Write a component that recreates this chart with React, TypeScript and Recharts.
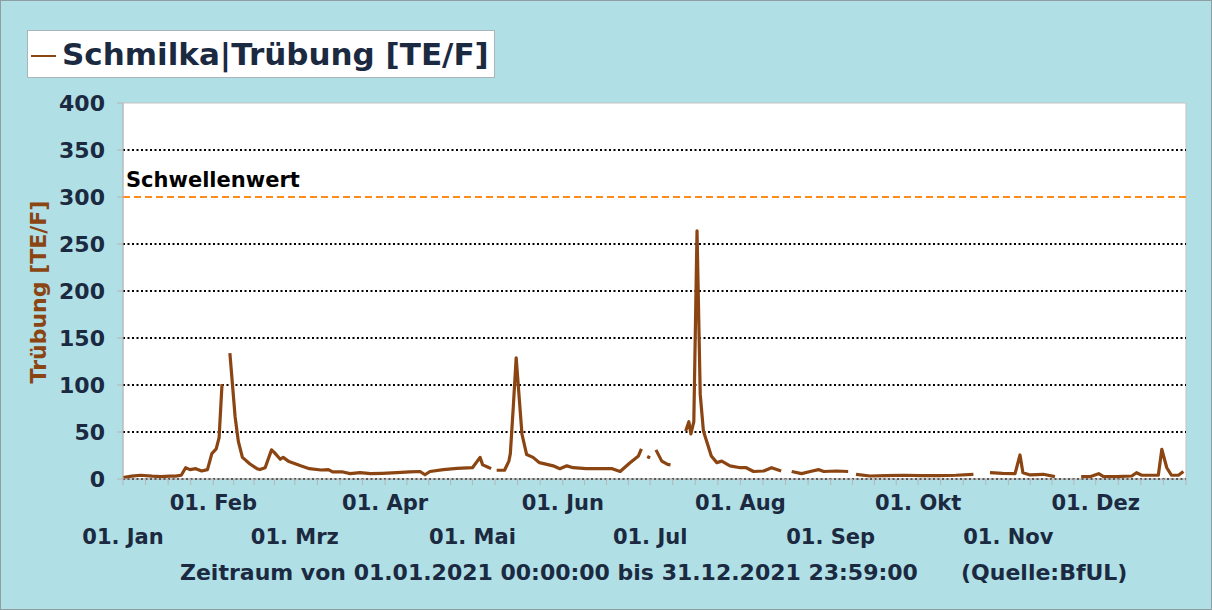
import { LineChart, Line, XAxis, YAxis, ReferenceLine, ReferenceArea } from 'recharts';

// Tage seit 01.01.2021 (0 = 01. Jan) und Trübungswerte in TE/F, null = Messlücke
const days = [
  0, 3, 6, 10, 13, 16, 18, 20, 21.5, 23, 25, 27, 29, 30.5, 32, 33, 34,
  35.5,
  36.7, 38.5, 39.6, 41, 43.6, 46, 47, 48.8, 51, 52, 54, 55, 57, 61, 64, 68, 70.5, 72, 75.5, 78,
  81.4, 85, 89, 94, 98.5, 102, 103.7, 105.4, 110, 114.7, 120, 122.6, 123.5, 125, 126.4,
  127.3,
  128.3, 131, 132.5, 133, 134, 135, 137, 138.6, 140.8, 143, 147.7, 150, 152.4, 154.6, 159, 164,
  168, 170.7, 174, 177, 178,
  179,
  180, 181,
  182,
  183, 185, 187, 188,
  190,
  193.2, 194.3, 195, 196, 197.1, 198.2, 199.3, 202, 203.9, 205.6, 208.4, 212, 214, 216.5, 220,
  222.7, 226,
  228,
  229.6, 233, 236, 238.8, 240.6, 245, 249,
  250.5,
  251.7, 256.5, 262, 268, 274, 280, 286, 292,
  295,
  297.7, 302, 306.3, 308, 309, 311.5, 316, 320,
  325,
  329, 332, 335, 336.7, 341, 346.4, 348, 349.8, 355.5, 356.7, 358.4, 360, 362.4, 364.1,
];

const turbidity: (number | null)[] = [
  1.5, 3, 4, 3, 2.5, 3, 3, 4, 12, 10, 11, 8.5, 10, 27, 32, 44, 101,
  null,
  134, 66, 40, 23, 16, 11, 10, 12, 31, 28, 21, 23, 18.5, 14, 11, 9.6, 10, 7.5, 7.5, 5.7,
  6.7, 5.7, 6, 6.7, 7.5, 8, 4.5, 8, 10, 11.4, 12, 23, 15, 13, 11,
  null,
  9.3, 9.3, 19, 27, 76, 129, 47.6, 26, 23, 17.4, 14, 11, 14, 12, 11, 11,
  11, 8, 17, 24.5, 32,
  null,
  24, 22.5,
  null,
  31, 19, 15.5, 15,
  null,
  51, 61, 48, 61, 264, 90, 51, 24.5, 17.4, 19, 14, 12, 12, 8, 8.5,
  12, 8.5,
  null,
  8, 5.7, 8, 10, 8, 8.5, 8,
  null,
  5, 3.2, 3.5, 4, 3.5, 3.5, 4, 5,
  null,
  6.7, 6, 5.7, 25.6, 6.7, 4.3, 5, 2.5,
  null,
  2.5, 2.5, 5.7, 2.5, 2.5, 3.2, 6.7, 4, 4, 31.6, 12, 4, 4, 8,
];

const monthStarts = [0, 31, 59, 90, 120, 151, 181, 212, 243, 273, 304, 334, 365];
const monthLabels = [
  '01. Jan', '01. Feb', '01. Mrz', '01. Apr', '01. Mai', '01. Jun',
  '01. Jul', '01. Aug', '01. Sep', '01. Okt', '01. Nov', '01. Dez',
];
const yTicks = [0, 50, 100, 150, 200, 250, 300, 350, 400];
const gridValues = [0, 50, 100, 150, 200, 250, 350];
const threshold = 300;

const data = days.map((day, i) => ({ day, value: turbidity[i] }));

// vier Teilstriche je Monat
const xTicks: number[] = [];
for (let m = 0; m < 12; m++) {
  const len = monthStarts[m + 1] - monthStarts[m];
  for (let q = 0; q < 4; q++) xTicks.push(monthStarts[m] + (q * len) / 4);
}
xTicks.push(365);

const FONT = '"DejaVu Sans", Verdana, sans-serif';
const NAVY = '#1b2a41';
const BROWN = '#8b4513';

const MonthTick = (props: any) => {
  const { x, y, payload } = props;
  const idx = monthStarts.indexOf(payload.value);
  if (idx < 0 || idx > 11) return <g />;
  const row = idx % 2 === 1 ? 0 : 1;
  return (
    <text
      x={x}
      y={y + 23 + row * 34}
      textAnchor="middle"
      fontFamily={FONT}
      fontWeight="bold"
      fontSize={21}
      fill={NAVY}
    >
      {monthLabels[idx]}
    </text>
  );
};

export default function App() {
  return (
    <div
      style={{
        position: 'absolute',
        left: 0,
        top: 0,
        width: 1212,
        height: 610,
        boxSizing: 'border-box',
        background: '#b0dfe5',
        border: '1px solid #8e9ea2',
        fontFamily: FONT,
      }}
    >
      <LineChart
        width={1210}
        height={608}
        data={data}
        margin={{ top: 102, right: 25, bottom: 100, left: 62 }}
      >
        <ReferenceArea x1={0} x2={365} y1={0} y2={400} fill="#ffffff" fillOpacity={1} stroke="#c4c4c4" ifOverflow="extendDomain" />
        {gridValues.map((v) => (
          <ReferenceLine key={v} y={v} stroke="#000" strokeWidth={2} strokeDasharray="2 2.5" />
        ))}
        <ReferenceLine
          y={threshold}
          stroke="#ff8c1a"
          strokeWidth={2}
          strokeDasharray="7 4"
          label={(p: any) => (
            <text
              x={p.viewBox.x + 3}
              y={p.viewBox.y - 10}
              fontFamily={FONT}
              fontWeight="bold"
              fontSize={21}
              fill="#000"
            >
              Schwellenwert
            </text>
          )}
        />
        <XAxis
          dataKey="day"
          type="number"
          domain={[0, 365]}
          ticks={xTicks}
          interval={0}
          height={30}
          axisLine={{ stroke: '#b5b5b5' }}
          tickLine={{ stroke: '#b5b5b5' }}
          tickSize={6}
          tick={<MonthTick />}
        />
        <YAxis
          type="number"
          domain={[0, 400]}
          ticks={yTicks}
          interval={0}
          width={60}
          axisLine={{ stroke: '#b5b5b5' }}
          tickLine={{ stroke: '#b5b5b5' }}
          tickSize={6}
          tickMargin={12}
          tick={{ fontFamily: FONT, fontWeight: 'bold', fontSize: 22, fill: NAVY }}
          label={(p: any) => (
            <text
              x={37}
              y={291}
              transform="rotate(-90 37 291)"
              textAnchor="middle"
              dominantBaseline="central"
              fontFamily={FONT}
              fontWeight="bold"
              fontSize={22}
              fill={BROWN}
            >
              Trübung [TE/F]
            </text>
          )}
        />
        <Line
          type="linear"
          dataKey="value"
          stroke={BROWN}
          strokeWidth={3.2}
          strokeLinejoin="round"
          dot={false}
          activeDot={false}
          connectNulls={false}
          isAnimationActive={false}
        />
      </LineChart>

      <div
        style={{
          position: 'absolute',
          left: 26,
          top: 29,
          width: 468,
          height: 48,
          boxSizing: 'border-box',
          background: '#fff',
          border: '1px solid #a9b6b9',
        }}
      >
        <div style={{ position: 'absolute', left: 3, top: 24, width: 25, height: 1.5, background: BROWN }} />
        <div
          style={{
            position: 'absolute',
            left: 34,
            top: 3,
            fontSize: 31,
            fontWeight: 'bold',
            color: NAVY,
            whiteSpace: 'nowrap',
            lineHeight: '40px',
          }}
        >
          Schmilka|Trübung [TE/F]
        </div>
      </div>

      <div
        style={{
          position: 'absolute',
          left: 179,
          top: 559,
          fontSize: 22,
          fontWeight: 'bold',
          color: NAVY,
          whiteSpace: 'nowrap',
        }}
      >
        Zeitraum von 01.01.2021 00:00:00 bis 31.12.2021 23:59:00
      </div>
      <div
        style={{
          position: 'absolute',
          left: 960,
          top: 559,
          fontSize: 22,
          fontWeight: 'bold',
          color: NAVY,
          whiteSpace: 'nowrap',
        }}
      >
        (Quelle:BfUL)
      </div>
    </div>
  );
}
